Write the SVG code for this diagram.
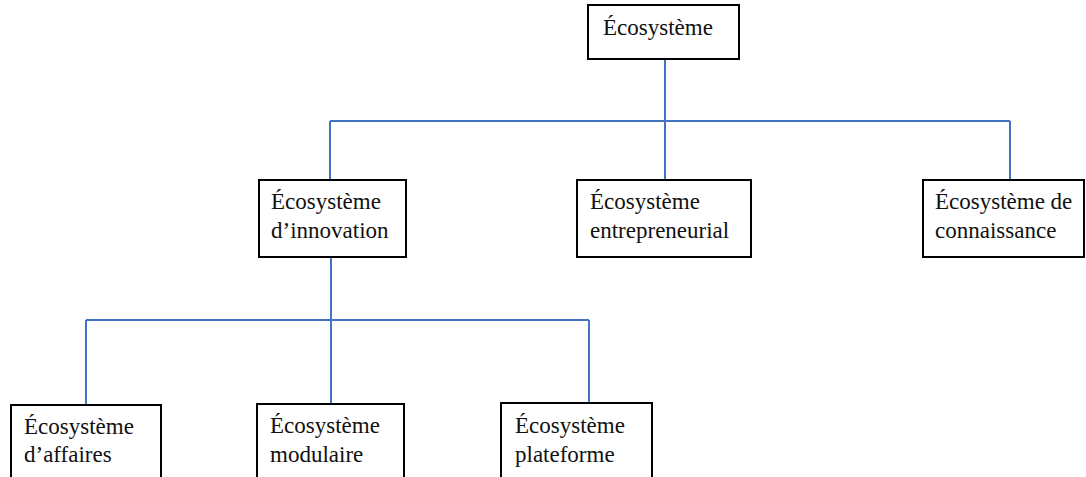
<svg xmlns="http://www.w3.org/2000/svg" width="1086" height="477" viewBox="0 0 1086 477">
<style>
.box{fill:#fff;stroke:#000;stroke-width:2}
.t{font-family:"Liberation Serif","Times New Roman",serif;font-size:23px;fill:#111}
.c{fill:none;stroke:#4472C4;stroke-width:2}
</style>
<rect width="1086" height="477" fill="#fff"/>
<g id="connectors">
<path class="c" d="M665 59V121M330 121H1010M330 121V180M665 121V180M1010 121V180"/>
<path class="c" d="M331 257V320M86 320H589M86 320V405M331 320V404M589 320V403"/>
</g>
<g id="n-root"><rect class="box" x="588" y="5" width="151" height="54"/><text class="t" x="603" y="35">Écosystème</text></g>
<g id="n-innovation"><rect class="box" x="259" y="180" width="147" height="77"/><text class="t" x="271" y="209">Écosystème</text><text class="t" x="271" y="238">d’innovation</text></g>
<g id="n-entrepreneurial"><rect class="box" x="577" y="180" width="174" height="77"/><text class="t" x="590" y="209">Écosystème</text><text class="t" x="590" y="238">entrepreneurial</text></g>
<g id="n-connaissance"><rect class="box" x="923" y="180" width="161" height="77"/><text class="t" x="935" y="209">Écosystème de</text><text class="t" x="935" y="238">connaissance</text></g>
<g id="n-affaires"><rect class="box" x="11" y="405" width="150" height="80"/><text class="t" x="24" y="434">Écosystème</text><text class="t" x="24" y="462">d’affaires</text></g>
<g id="n-modulaire"><rect class="box" x="257" y="404" width="147" height="80"/><text class="t" x="270" y="433">Écosystème</text><text class="t" x="270" y="462">modulaire</text></g>
<g id="n-plateforme"><rect class="box" x="501" y="403" width="151" height="80"/><text class="t" x="515" y="433">Écosystème</text><text class="t" x="515" y="462">plateforme</text></g>
</svg>
